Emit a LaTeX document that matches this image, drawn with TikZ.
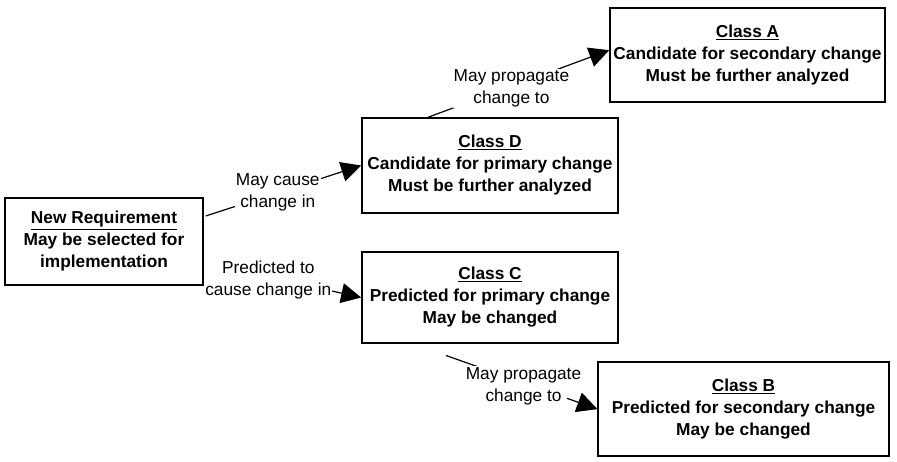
\documentclass[tikz,border=0pt]{standalone}
\usepackage{fontspec}
\setmainfont{Liberation Sans}
\usepackage{tikz}
\usetikzlibrary{arrows.meta,positioning,calc}

\begin{document}
\begin{tikzpicture}[x=1pt,y=-1pt,
    classbox/.style={draw,line width=1.6pt,align=center,inner sep=0pt,
        font=\fontsize{17.3}{22}\selectfont\bfseries},
    edgelabel/.style={fill=white,align=center,inner sep=1pt,
        font=\fontsize{17.3}{22}\selectfont},
    link/.style={line width=1.2pt,-{Triangle[length=20pt,width=20pt]}}]
    \useasboundingbox (0,0) rectangle (897,461);
    % Requirement and classes
    \node[classbox,minimum width=198pt,minimum height=87pt] (req) at (104,241.5)
        {\underline{New Requirement}\\May be selected for\\implementation};
    \node[classbox,minimum width=256pt,minimum height=95pt] (classd) at (490,165.5)
        {\underline{Class D}\\Candidate for primary change\\Must be further analyzed};
    \node[classbox,minimum width=275pt,minimum height=94pt] (classa) at (747.5,55)
        {\underline{Class A}\\Candidate for secondary change\\Must be further analyzed};
    \node[classbox,minimum width=256pt,minimum height=91pt] (classc) at (490,297.5)
        {\underline{Class C}\\Predicted for primary change\\May be changed};
    \node[classbox,minimum width=291pt,minimum height=94pt] (classb) at (743.5,409)
        {\underline{Class B}\\Predicted for secondary change\\May be changed};
    % Change relations
    \draw[link,shorten <=2pt] (req.14) -- node[edgelabel,pos=0.47] {May cause\\change in} (classd.west);
    \draw[link,shorten <=2pt] (req.-12) -- node[edgelabel,pos=0.41,yshift=-3pt] {Predicted to\\cause change in} (classc.west);
    \draw[link] (classd.142) -- node[edgelabel,pos=0.46,yshift=-2pt] {May propagate\\change to} (classa.178);
    \draw[link,shorten <=35pt] (classc.-149) -- node[edgelabel,pos=0.6,yshift=-3pt] {May propagate\\change to} (classb.west);
    % tip again, the label box covers it
    \draw[link] ($(classb.west)!32pt!(classc.-149)$) -- (classb.west);
\end{tikzpicture}
\end{document}
